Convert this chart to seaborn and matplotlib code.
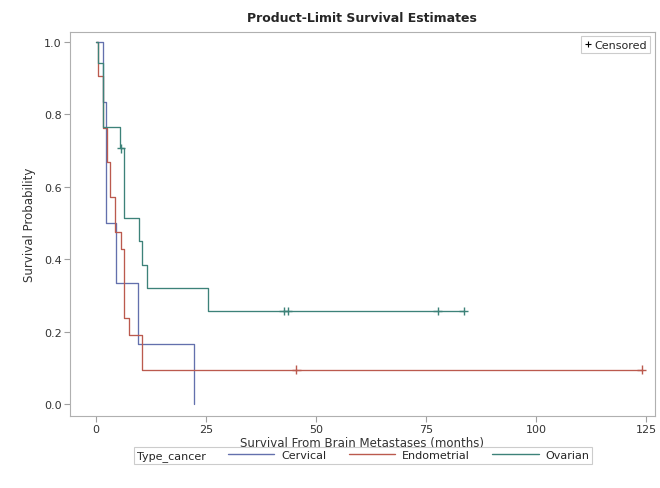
import numpy as np
import pandas as pd
import matplotlib
matplotlib.use("Agg")
import matplotlib.pyplot as plt
from matplotlib.lines import Line2D
import seaborn as sns

# ---- data ----
groups = ["Cervical", "Endometrial", "Ovarian"]

cervical_t = [0, 1.5, 2.4, 4.6, 9.6, 22.3]
cervical_s = [1.0, 0.833, 0.5, 0.333, 0.167, 0.0]
cervical_end = 22.3
cervical_cens = []

endometrial_t = [0, 0.45, 1.6, 2.5, 3.2, 4.3, 5.6, 6.4, 7.5, 10.5]
endometrial_s = [1.0, 0.905, 0.762, 0.667, 0.571, 0.476, 0.429, 0.238, 0.190, 0.095]
endometrial_end = 124.0
endometrial_cens = [45.5, 124.0]

ovarian_t = [0, 0.45, 1.6, 5.4, 6.4, 9.8, 10.4, 11.5, 25.4]
ovarian_s = [1.0, 0.941, 0.765, 0.706, 0.513, 0.449, 0.385, 0.321, 0.257]
ovarian_end = 83.6
ovarian_cens = [5.7, 42.7, 43.6, 77.7, 83.6]

x_ticks = [0, 25, 50, 75, 100, 125]
y_ticks = [0.0, 0.2, 0.4, 0.6, 0.8, 1.0]

colors = {"Cervical": "#6370ad", "Endometrial": "#bb5a4e", "Ovarian": "#3d8279"}

series = {
    "Cervical": (cervical_t, cervical_s, cervical_end, cervical_cens),
    "Endometrial": (endometrial_t, endometrial_s, endometrial_end, endometrial_cens),
    "Ovarian": (ovarian_t, ovarian_s, ovarian_end, ovarian_cens),
}

line_rows = []
cens_rows = []
for g in groups:
    t, s, end, cens = series[g]
    for ti, si in zip(t, s):
        line_rows.append((g, ti, si))
    if end > t[-1]:
        line_rows.append((g, end, s[-1]))
    for c in cens:
        idx = np.searchsorted(t, c, side="right") - 1
        cens_rows.append((g, c, s[idx]))

lines_df = pd.DataFrame(line_rows, columns=["group", "time", "surv"])
cens_df = pd.DataFrame(cens_rows, columns=["group", "time", "surv"])

sns.set_style("white")
plt.rcParams["font.family"] = ["DejaVu Sans"]

fig = plt.figure(figsize=(6.6, 4.89), dpi=100)
ax = fig.add_axes([0.106, 0.147, 0.886, 0.786])

sns.lineplot(data=lines_df, x="time", y="surv", hue="group", palette=colors,
             hue_order=groups, estimator=None, sort=False, drawstyle="steps-post",
             linewidth=0.95, legend=False, ax=ax)
sns.scatterplot(data=cens_df, x="time", y="surv", hue="group", palette=colors,
                hue_order=groups, marker="+", s=40, linewidth=1.0, legend=False, ax=ax)

ax.set_xlim(-5.9, 127.0)
ax.set_ylim(-0.033, 1.027)
ax.set_xticks(x_ticks)
ax.set_xticklabels([str(v) for v in x_ticks])
ax.set_yticks(y_ticks)
ax.set_yticklabels([f"{v:.1f}" for v in y_ticks])

for sp in ax.spines.values():
    sp.set_color("#b0b0b0")
    sp.set_linewidth(0.8)
    sp.set_visible(True)
ax.tick_params(axis="both", which="both", direction="out", length=4, width=0.8,
               color="#a0a0a0", labelsize=8, labelcolor="#333333",
               bottom=True, left=True, pad=2)

ax.set_xlabel("Survival From Brain Metastases (months)", fontsize=8.5, color="#333333", labelpad=1)
ax.set_ylabel("Survival Probability", fontsize=8.5, color="#333333", labelpad=6)
ax.set_title("Product-Limit Survival Estimates", fontsize=9, fontweight="bold", pad=8)

# censored inset legend
cens_handle = Line2D([], [], color="black", marker="+", linestyle="none", markersize=5, markeredgewidth=0.8)
leg1 = ax.legend([cens_handle], ["Censored"], loc="upper right", fontsize=8,
                 frameon=True, fancybox=False, edgecolor="#c0c0c0",
                 handlelength=0.6, handletextpad=0.3, borderpad=0.3,
                 borderaxespad=0.4)
leg1.get_frame().set_linewidth(0.8)

# bottom group legend
blank = Line2D([], [], linestyle="none")
handles = [blank] + [Line2D([], [], color=colors[g], linewidth=1.0) for g in groups]
labels = ["Type_cancer"] + groups
leg2 = fig.legend(handles, labels, loc="center", bbox_to_anchor=(0.55, 0.066),
                  ncol=4, fontsize=8, frameon=True, fancybox=False, edgecolor="#c0c0c0",
                  handlelength=4.2, handletextpad=0.6, columnspacing=2.0,
                  borderpad=0.25)
leg2.get_frame().set_linewidth(0.8)
try:
    first_col = leg2._legend_handle_box.get_children()[0]
    first_entry = first_col.get_children()[0]
    first_entry.get_children()[0].width = 0
    first_entry.sep = 0
except Exception:
    pass

fig.savefig("out.png", dpi=100)
